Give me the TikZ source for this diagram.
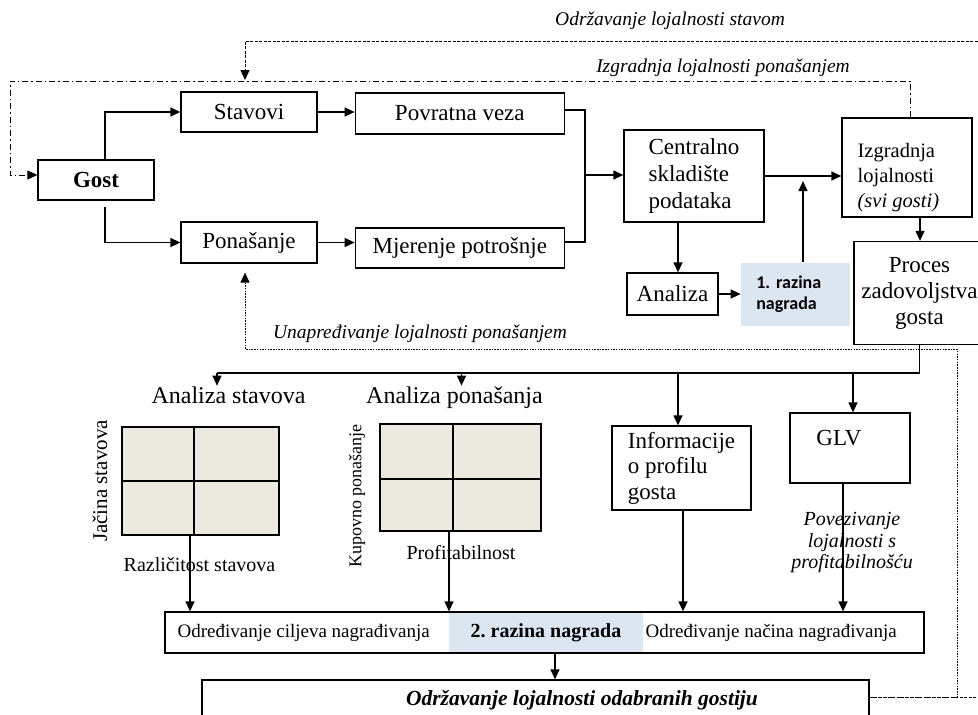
\documentclass[tikz,border=0pt]{standalone}
\usepackage{fontspec}
\setmainfont{Liberation Serif}
\newfontfamily\calibrifont{Carlito}
\usetikzlibrary{positioning, shapes, arrows.meta, calc}
\definecolor{myblue}{RGB}{220,230,241}
\definecolor{mybeige}{RGB}{236,234,224}

\begin{document}
\begin{tikzpicture}[
   x=1pt, y=-1pt, line width=1.3pt,
   every node/.style       = {font=\fontsize{23}{27}\selectfont, inner sep=0pt},
   node distance           = 37pt,
         plainBox/.style   = {rectangle, draw, line width=1.3pt, fill=white, align=center},
         rewardBox/.style  = {rectangle, fill=myblue, align=left},
         gridBox/.style    = {rectangle, draw, line width=1.3pt, fill=mybeige},
         loopLabel/.style  = {font=\fontsize{19.5}{22}\selectfont\itshape},
         myarrow/.style    = {-{Triangle[length=10pt, width=9pt]}},
         stavomLine/.style = {line width=1pt, dash pattern=on 3pt off 1.5pt},
         izgLine/.style    = {line width=1pt, dash pattern=on 6pt off 3pt on 1.5pt off 3pt},
         unapLine/.style   = {line width=1pt, dash pattern=on 1.5pt off 1.2pt}
]
    \useasboundingbox (0,0) rectangle (978,715);
    \clip (0,0) rectangle (978,715);

    \node[plainBox, minimum width=116pt, minimum height=40pt, font=\fontsize{23}{27}\selectfont\bfseries] (gost) at (96,180) {Gost};

    \node[plainBox, minimum width=136pt, minimum height=40pt] (stavovi) at (249,112) {Stavovi};
    \node[plainBox, minimum width=209pt, minimum height=41pt, right=of stavovi, yshift=-1.5pt] (povratna) {Povratna veza};
    \node[plainBox, minimum width=136pt, minimum height=41pt] (ponasanje) at (249,242.5) {Ponašanje};
    \node[plainBox, minimum width=209pt, minimum height=40pt, right=of ponasanje, yshift=-5.5pt] (mjerenje) {Mjerenje potrošnje};

    \draw[myarrow] ([xshift=9pt]gost.north) |- (stavovi.west);
    \draw[myarrow] ([xshift=9pt,yshift=-6pt]gost.south) |- (ponasanje.west);
    \draw[myarrow] (stavovi.east) -- (stavovi.east -| povratna.west);
    \draw[myarrow] (ponasanje.east) -- (ponasanje.east -| mjerenje.west);

    \node[plainBox, minimum width=140pt, minimum height=92pt, align=left] (centralno) at (694,176) {Centralno\\skladište\\podataka};
    \node[plainBox, minimum width=130pt, minimum height=99pt] (izgradnja) at (907,167.5) {};
    \node[align=left, anchor=west, font=\fontsize{20.5}{25}\selectfont] (izgradnjaTxt) at (857,178) {Izgradnja\\lojalnosti\\\textit{(svi gosti)}};
    \node[plainBox, minimum width=131pt, minimum height=103pt, font=\fontsize{23}{26}\selectfont] (proces) at (919.5,293) {Proces\\zadovoljstva\\gosta};
    \node[plainBox, minimum width=91pt, minimum height=42pt] (analiza) at (672.5,294) {Analiza};
    \node[rewardBox, minimum width=109pt, minimum height=63pt, text width=79pt, right=22pt of analiza,
          font=\calibrifont\bfseries\fontsize{18}{21}\selectfont] (razina1) {1.\ razina\\nagrada};

    \coordinate (merge) at (585,175);
    \draw ([yshift=3.5pt]povratna.east) -| (merge);
    \draw ([yshift=6pt]mjerenje.east) -| (merge);
    \draw[myarrow] (merge) -- (merge -| centralno.west);
    \draw[myarrow] (centralno.east) -- (centralno.east -| izgradnja.west);
    \draw[myarrow] ([xshift=5.5pt]analiza.north |- centralno.south) -- ([xshift=5.5pt]analiza.north);
    \draw[myarrow] (analiza.east) -- (razina1.west);
    \coordinate (razinaTip) at (803,181);
    \draw[myarrow] (razinaTip |- razina1.north) -- (razinaTip);
    \draw[myarrow] ([xshift=13pt]izgradnja.south) -- ([xshift=13pt]izgradnja.south |- proces.north);

    % second row
    \node[font=\fontsize{24}{28}\selectfont, anchor=base] (anStavova) at (228.5,403) {Analiza stavova};
    \node[font=\fontsize{24}{28}\selectfont, anchor=base] (anPonasanja) at (454.5,403) {Analiza ponašanja};

    \node[gridBox, minimum width=157pt, minimum height=108pt] (gridStavovi) at (200.5,481) {};
    \node[gridBox, minimum width=161pt, minimum height=107pt] (gridPonasanja) at (460.5,477.5) {};
    \foreach \grid/\dx/\dy in {gridStavovi/-6.5/0, gridPonasanja/-7.5/-1.5}
    {
      \draw ([xshift=\dx pt]\grid.north) -- ([xshift=\dx pt]\grid.south);
      \draw ([yshift=\dy pt]\grid.west) -- ([yshift=\dy pt]\grid.east);
    }
    \node[rotate=90, font=\fontsize{21}{24}\selectfont] (jacina) at (100,481) {Jačina stavova};
    \node[rotate=90, font=\fontsize{18}{22}\selectfont] (kupovno) at (357,496) {Kupovno ponašanje};
    \node[font=\fontsize{20}{24}\selectfont] (razlicitost) at (199.5,565) {Različitost stavova};
    \node[font=\fontsize{20}{24}\selectfont] (profitabilnost) at (461,553) {Profitabilnost};

    \node[plainBox, minimum width=139pt, minimum height=84pt, align=left, font=\fontsize{23}{25.5}\selectfont] (informacije) at (681.5,468) {Informacije\\o profilu\\gosta};
    \node[plainBox, minimum width=120pt, minimum height=70pt] (glv) at (850,448) {};
    \node (glvTxt) at (839,438) {GLV};
    \node[font=\fontsize{20}{21.5}\selectfont\itshape, align=center] (povezivanje) at (852,543) {Povezivanje\\lojalnosti s\\profitabilnošću};

    \coordinate (busLeft) at (217,373);
    \draw (proces.south) |- (busLeft);
    \draw[myarrow] (busLeft) -- (busLeft |- anStavova.north);
    \draw[myarrow] ([xshift=7pt]anPonasanja.north |- busLeft) -- ([xshift=7pt]anPonasanja.north);
    \draw[myarrow] ([xshift=-3.5pt]informacije.north |- busLeft) -- ([xshift=-3.5pt]informacije.north);
    \draw[myarrow] ([xshift=3pt]glv.north |- busLeft) -- ([xshift=3pt]glv.north);

    % reward level 2
    \node[plainBox, minimum width=759pt, minimum height=41pt] (odredjivanje) at (544.5,632.5) {};
    \node[rewardBox, minimum width=194pt, minimum height=38.5pt, font=\fontsize{20}{24}\selectfont\bfseries] (razina2) at (546,632.5) {2.\ razina nagrada};
    \node[anchor=west, font=\fontsize{19}{24}\selectfont] (ciljevi) at (177,632.5) {Određivanje ciljeva nagrađivanja};
    \node[anchor=west, font=\fontsize{19}{24}\selectfont] (nacin) at (645,632.5) {Određivanje načina nagrađivanja};

    \draw[myarrow] ([xshift=-10.5pt]gridStavovi.south) -- ([xshift=-10.5pt]gridStavovi.south |- odredjivanje.north);
    \draw[myarrow] ([xshift=-11.5pt]gridPonasanja.south) -- ([xshift=-11.5pt]gridPonasanja.south |- odredjivanje.north);
    \draw[myarrow] ([xshift=1.5pt]informacije.south) -- ([xshift=1.5pt]informacije.south |- odredjivanje.north);
    \draw[myarrow] ([xshift=-7pt]glv.south) -- ([xshift=-7pt]glv.south |- odredjivanje.north);

    \node[plainBox, minimum width=667pt, minimum height=60pt] (odrzavanje) at (535.5,710) {};
    \node[font=\fontsize{21.5}{25}\selectfont\bfseries\itshape] (odrzavanjeTxt) at (582,700) {Održavanje lojalnosti odabranih gostiju};
    \draw[myarrow] ([xshift=9pt]razina2.south) -- ([xshift=9pt]razina2.south |- odrzavanje.north);

    % feedback loops
    \coordinate (stavomCorner) at (985,41);
    \coordinate (stavomEnd) at (245,80);
    \draw[stavomLine, myarrow] ([yshift=13pt]odrzavanje.east) -| (stavomCorner) -| (stavomEnd);
    \node[loopLabel] (stavomLbl) at (670,21) {Održavanje lojalnosti stavom};

    \coordinate (izgCorner) at (10,81);
    \draw[izgLine, myarrow] ([xshift=3pt]izgradnja.north) |- (izgCorner) |- ([yshift=5pt]gost.west);
    \node[loopLabel] (izgLbl) at (723,68) {Izgradnja lojalnosti ponašanjem};

    \coordinate (unapCorner) at (957,349);
    \draw[unapLine, myarrow] ([yshift=13pt]odrzavanje.east) -| (unapCorner) -| ([xshift=-4pt,yshift=-9pt]ponasanje.south);
    \node[loopLabel] (unapLbl) at (420,334) {Unapređivanje lojalnosti ponašanjem};
\end{tikzpicture}
\end{document}
